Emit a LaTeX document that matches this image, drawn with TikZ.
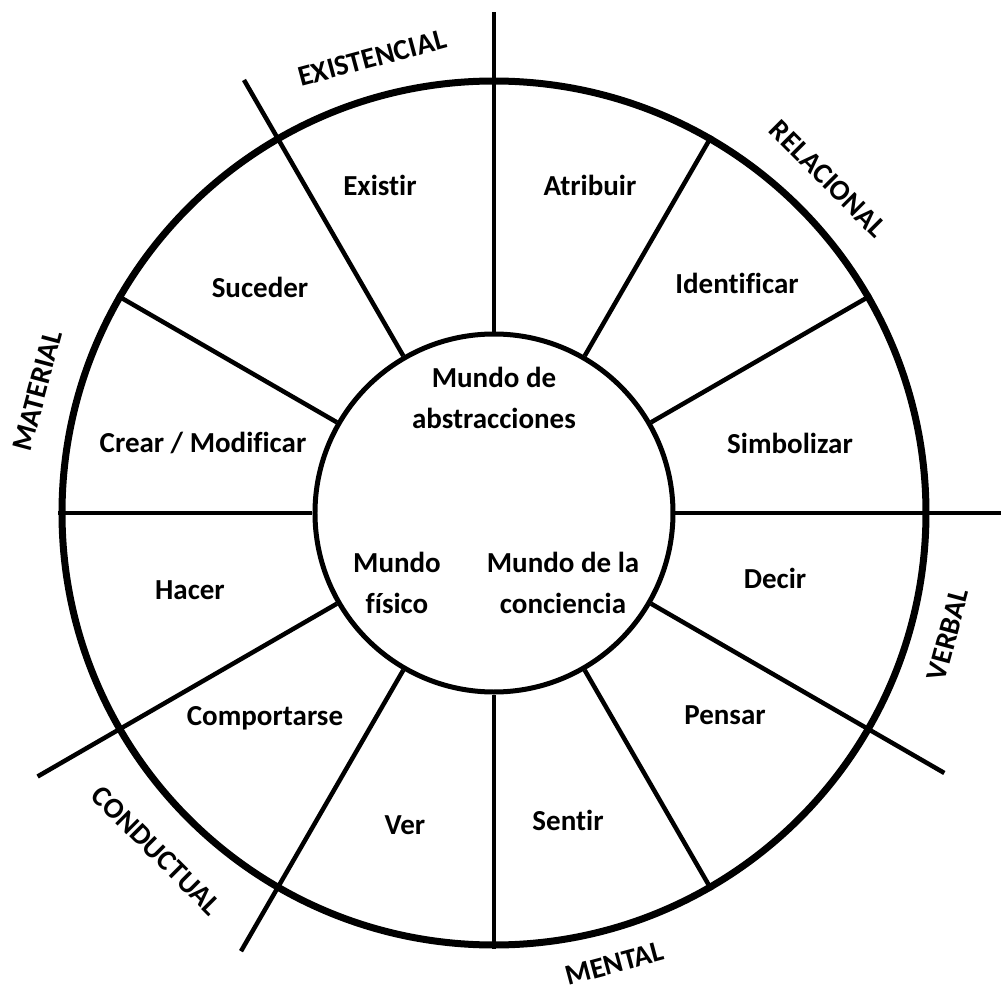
\documentclass[tikz,border=0pt]{standalone}
\usepackage{fontspec}
\setmainfont{Carlito}[Ligatures={NoCommon}]
\definecolor{ink}{HTML}{000000}
\usepackage{tikz}
\usetikzlibrary{positioning}

\begin{document}
\begin{tikzpicture}[
  rueda/.style={draw=ink, circle, line width=0.14cm, inner sep=0pt},
  nucleo/.style={draw=ink, circle, line width=0.1cm, inner sep=0pt},
  spoke/.style={draw=ink, line width=0.09cm},
  verbo/.style={font=\fontsize{16.5}{23.3}\selectfont\bfseries, text=ink},
  mundo/.style={verbo, align=center},
  tipo/.style={font=\fontsize{16.5}{20}\selectfont\bfseries, text=ink}
]
  \useasboundingbox (-9.88,-9.56) rectangle (10.14,10.26);
  \node[rueda, minimum size=17.28cm] (rueda) at (0,0) {};
  \node[nucleo, minimum size=7.16cm] (centro) at (0,0) {};
  % radios que quedan dentro de la rueda
  \draw[spoke] (centro.30) -- (rueda.30);
  \draw[spoke] (centro.60) -- (rueda.60);
  \draw[spoke] (centro.150) -- (rueda.150);
  \draw[spoke] (centro.180) -- (rueda.180);
  \draw[spoke] (centro.270) -- (rueda.270);
  \draw[spoke] (centro.300) -- (rueda.300);
  % radios que separan los tipos de proceso
  \coordinate (fin90) at (90:10.02);
  \coordinate (fin120) at (120:10.0);
  \coordinate (fin0) at (0:10.2);
  \coordinate (fin330) at (330:10.4);
  \coordinate (fin210) at (210:10.54);
  \coordinate (fin240) at (240:10.12);
  \draw[spoke] (centro.90) -- (fin90);
  \draw[spoke] (centro.120) -- (fin120);
  \draw[spoke] (centro.0) -- (fin0);
  \draw[spoke] (centro.330) -- (fin330);
  \draw[spoke] (centro.210) -- (fin210);
  \draw[spoke] (centro.240) -- (fin240);

  \node[mundo] (abstracto) at (0,2.3) {Mundo de\\abstracciones};
  \node[mundo] (fisico) at (-1.94,-1.4) {Mundo\\físico};
  \node[mundo] (conciencia) at (1.38,-1.4) {Mundo de la\\conciencia};

  \node[verbo] (existir) at (-2.28,6.56) {Existir};
  \node[verbo] (atribuir) at (1.92,6.56) {Atribuir};
  \node[verbo] (identificar) at (4.86,4.6) {Identificar};
  \node[verbo] (simbolizar) at (5.92,1.4) {Simbolizar};
  \node[verbo] (decir) at (5.62,-1.3) {Decir};
  \node[verbo] (pensar) at (4.62,-4.04) {Pensar};
  \node[verbo] (sentir) at (1.48,-6.14) {Sentir};
  \node[verbo] (ver) at (-1.78,-6.24) {Ver};
  \node[verbo] (comportarse) at (-4.58,-4.1) {Comportarse};
  \node[verbo] (hacer) at (-6.08,-1.54) {Hacer};
  \node[verbo] (crear) at (-5.82,1.4) {Crear / Modificar};
  \node[verbo] (suceder) at (-4.68,4.52) {Suceder};

  \node[tipo, rotate=15] (existencial) at (105:9.42) {EXISTENCIAL};
  \node[tipo, rotate=-45] (relacional) at (45:9.45) {RELACIONAL};
  \node[tipo, rotate=75] (material) at (165:9.45) {MATERIAL};
  \node[tipo, rotate=75] (verbal) at (-15:9.4) {VERBAL};
  \node[tipo, rotate=-45] (conductual) at (225:9.55) {CONDUCTUAL};
  \node[tipo, rotate=15] (mental) at (-75:9.33) {MENTAL};
\end{tikzpicture}
\end{document}
